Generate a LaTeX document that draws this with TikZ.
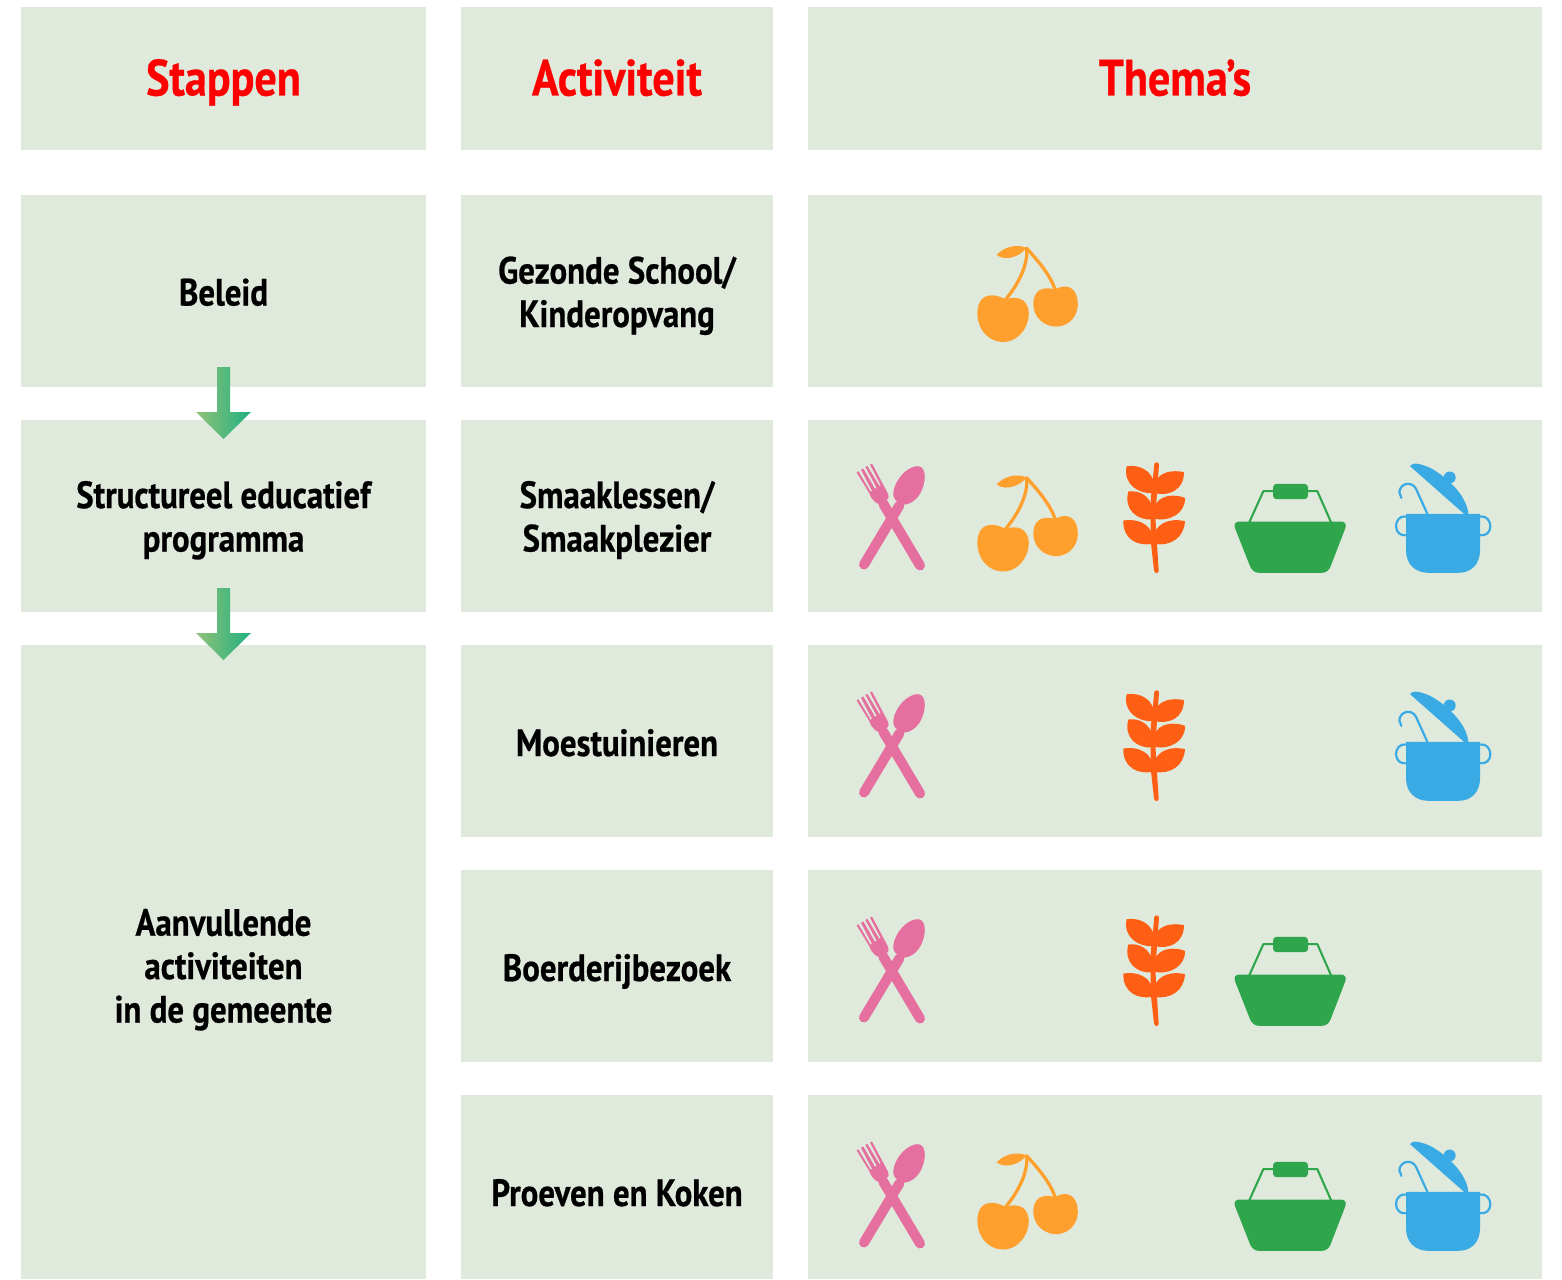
\documentclass[tikz,border=0pt]{standalone}
\usepackage{fontspec}
\setmainfont[FakeStretch=0.865,BoldFont={PT Sans Bold},BoldFeatures={FakeBold=0.6}]{PT Sans}
\usetikzlibrary{calc}
\definecolor{cellbg}{HTML}{E0EADC}
\definecolor{forkc}{HTML}{E56F9F}
\definecolor{cherryc}{HTML}{FFA02E}
\definecolor{wheatc}{HTML}{FF5F14}
\definecolor{basketc}{HTML}{30A64C}
\definecolor{potc}{HTML}{39AAE4}
\definecolor{arrowl}{HTML}{90C278}
\definecolor{arrowr}{HTML}{1FB080}
\tikzset{
  cell/.style={fill=cellbg,inner sep=0pt,outer sep=0pt},
  lbl/.style={inner sep=0pt,outer sep=0pt,anchor=base,align=center,font=\fontsize{38}{43.4}\selectfont\bfseries,text=black},
  headlbl/.style={lbl,font=\fontsize{51}{60}\selectfont\bfseries,text=red},
  zoomunits/.style={x=0.33333pt,y=-0.33333pt},
  flowarrow/.pic={
    \shade[left color=arrowl,right color=arrowr] (-6.5,0) -- (6.5,0) -- (6.5,45) -- (27.5,45) -- (0,72) -- (-27.5,45) -- (-6.5,45) -- cycle;
  },
  iconfork/.pic={
    \begin{scope}[zoomunits]
      \fill[forkc] (134,165) .. controls (112,165) and (95,150) .. (88,128)
        -- (50,66) -- (55,62) -- (92,124) -- (96,121) -- (63,58) -- (70,54) -- (105,115) -- (110,112) -- (76,49) -- (82,46) -- (118,106) -- (122,104) -- (90,42) -- (96,39)
        -- (140,122) .. controls (148,135) and (148,145) .. (138,150) -- (150,170) -- cycle;
      \draw[forkc,line width=10pt,line cap=round] (240,345) -- (130,160);
      \draw[forkc,line width=10pt,line cap=round] (72,342) -- (178,165);
      \fill[forkc] (160,125) .. controls (165,85) and (205,45) .. (235,47) .. controls (262,50) and (258,100) .. (240,130) .. controls (225,155) and (195,170) .. (178,158) .. controls (165,150) and (158,140) .. (160,125) -- cycle;
    \end{scope}
  },
  iconcherry/.pic={
    \begin{scope}[zoomunits]
      \fill[cherryc] (470,102) .. controls (490,78) and (530,68) .. (558,80) .. controls (550,100) and (500,125) .. (470,102) -- cycle;
      \draw[cherryc,line width=3.3pt,line cap=round] (560,82) .. controls (565,130) and (535,190) .. (497,235);
      \draw[cherryc,line width=3.3pt,line cap=round] (560,82) .. controls (590,115) and (630,160) .. (645,205);
      \fill[cherryc] (495,235) .. controls (475,222) and (445,218) .. (428,232) .. controls (410,248) and (408,285) .. (418,310) .. controls (430,345) and (460,363) .. (490,363) .. controls (525,363) and (555,335) .. (564,298) .. controls (572,265) and (560,235) .. (530,231) .. controls (515,230) and (505,232) .. (495,235) -- cycle;
      \fill[cherryc] (645,205) .. controls (625,200) and (600,200) .. (590,215) .. controls (575,235) and (578,265) .. (590,285) .. controls (603,305) and (625,317) .. (647,317) .. controls (680,317) and (705,295) .. (712,265) .. controls (718,230) and (705,200) .. (680,197) .. controls (665,196) and (655,200) .. (645,205) -- cycle;
    \end{scope}
  },
  iconwheat/.pic={
    \begin{scope}[zoomunits]
      \fill[wheatc] (133,40) .. controls (135,34) and (147,34) .. (147,42) -- (136,200) -- (146,360) .. controls (146,370) and (134,370) .. (132,360) -- (122,270) -- (122,150) -- cycle;
      \fill[wheatc] (50,47) .. controls (90,42) and (122,60) .. (132,95) -- (132,128) .. controls (85,132) and (38,100) .. (50,47) -- cycle;
      \fill[wheatc] (222,65) .. controls (190,58) and (150,62) .. (136,95) -- (134,128) .. controls (178,138) and (222,118) .. (222,65) -- cycle;
      \fill[wheatc] (55,123) .. controls (90,118) and (120,138) .. (127,172) -- (127,207) .. controls (82,210) and (40,178) .. (55,123) -- cycle;
      \fill[wheatc] (225,142) .. controls (195,130) and (145,132) .. (133,170) -- (133,205) .. controls (178,215) and (227,188) .. (225,142) -- cycle;
      \fill[wheatc] (40,210) .. controls (85,203) and (120,222) .. (127,255) -- (127,280) .. controls (85,288) and (38,268) .. (40,210) -- cycle;
      \fill[wheatc] (225,212) .. controls (190,203) and (145,212) .. (133,250) -- (133,280) .. controls (182,288) and (222,262) .. (225,212) -- cycle;
    \end{scope}
  },
  iconbasket/.pic={
    \begin{scope}[zoomunits]
      \draw[basketc,line width=2.1pt,line join=round] (418,215) -- (460,122) -- (622,122) -- (663,215);
      \fill[basketc,rounded corners=3.5pt] (489,100) rectangle (594,146);
      \fill[basketc] (388,213) -- (693,213) .. controls (705,213) and (710,222) .. (706,233) -- (662,347) .. controls (657,360) and (648,367) .. (635,367) -- (447,367) .. controls (435,367) and (425,360) .. (420,347) -- (375,233) .. controls (371,222) and (376,213) .. (388,213) -- cycle;
    \end{scope}
  },
  iconpot/.pic={
    \begin{scope}[zoomunits]
      \draw[potc,line width=2.2pt] (888,198) .. controls (870,195) and (858,210) .. (858,227) .. controls (858,245) and (872,257) .. (888,254);
      \draw[potc,line width=2.2pt] (1110,198) .. controls (1128,195) and (1141,210) .. (1141,227) .. controls (1141,245) and (1128,257) .. (1110,254);
      \fill[potc] (888,190) -- (1110,190) -- (1110,300) .. controls (1110,340) and (1085,367) .. (1045,367) -- (955,367) .. controls (915,367) and (888,340) .. (888,300) -- cycle;
      \fill[potc] (900,47) .. controls (905,35) and (930,38) .. (960,52) .. controls (1000,72) and (1070,130) .. (1075,190) -- (1062,190) -- cycle;
      \fill[potc] (1019,81) circle[radius=18];
      \draw[potc,line width=2.2pt,line cap=round] (952,190) -- (918,115) .. controls (905,90) and (870,98) .. (868,125) -- (874,142);
    \end{scope}
  }
}
\begin{document}
\begin{tikzpicture}[x=1pt,y=-1pt]
\useasboundingbox (0,0) rectangle (1562,1279);
% header cells
\node[cell,minimum width=405pt,minimum height=143pt] (hstappen) at (223.5,78.5) {};
\node[cell,minimum width=312pt,minimum height=143pt] (hactiviteit) at (617,78.5) {};
\node[cell,minimum width=734pt,minimum height=143pt] (hthemas) at (1175,78.5) {};
\node[headlbl] (tstappen) at (223.5,95.5) {Stappen};
\node[headlbl] (tactiviteit) at (617,95.5) {Activiteit};
\node[headlbl] (tthemas) at (1175,95.5) {Thema’s};
% steps
\node[cell,minimum width=405pt,minimum height=192pt] (beleid) at (223.5,291) {};
\node[cell,minimum width=405pt,minimum height=192pt] (struct) at (223.5,516) {};
\node[cell,minimum width=405pt,minimum height=634pt] (aanv) at (223.5,962) {};
\node[lbl] (tbeleid) at (223.5,305.5) {Beleid};
\node[lbl] (tstruct) at (223.5,551.5) {Structureel educatief\\programma};
\node[lbl] (taanv) at (223.5,1022.5) {Aanvullende\\activiteiten\\in de gemeente};
% activities
\node[cell,minimum width=312pt,minimum height=192pt] (a1) at (617,291) {};
\node[cell,minimum width=312pt,minimum height=192pt] (a2) at (617,516) {};
\node[cell,minimum width=312pt,minimum height=192pt] (a3) at (617,741) {};
\node[cell,minimum width=312pt,minimum height=192pt] (a4) at (617,966) {};
\node[cell,minimum width=312pt,minimum height=184pt] (a5) at (617,1187) {};
\node[lbl] (ta1) at (617,327) {Gezonde School/\\Kinderopvang};
\node[lbl] (ta2) at (617,551.5) {Smaaklessen/\\Smaakplezier};
\node[lbl] (ta3) at (617,756) {Moestuinieren};
\node[lbl] (ta4) at (617,981) {Boerderijbezoek};
\node[lbl] (ta5) at (617,1206) {Proeven en Koken};
% themes
\node[cell,minimum width=734pt,minimum height=192pt] (t1) at (1175,291) {};
\node[cell,minimum width=734pt,minimum height=192pt] (t2) at (1175,516) {};
\node[cell,minimum width=734pt,minimum height=192pt] (t3) at (1175,741) {};
\node[cell,minimum width=734pt,minimum height=192pt] (t4) at (1175,966) {};
\node[cell,minimum width=734pt,minimum height=184pt] (t5) at (1175,1187) {};
% arrows
\pic at ($(beleid.south)+(0,-20)$) {flowarrow};
\pic at ($(struct.south)+(0,-24)$) {flowarrow};
% icons
\pic at (840,221) {iconcherry};
\pic at (840,450.5) {iconfork};
\pic at (840,450.5) {iconcherry};
\pic at (1110,450.5) {iconwheat};
\pic at (1110,450.5) {iconbasket};
\pic at (1110,450.5) {iconpot};
\pic at (840,678.5) {iconfork};
\pic at (1110,678.5) {iconwheat};
\pic at (1110,678.5) {iconpot};
\pic at (840,903.5) {iconfork};
\pic at (1110,903.5) {iconwheat};
\pic at (1110,903.5) {iconbasket};
\pic at (840,1128.5) {iconfork};
\pic at (840,1128.5) {iconcherry};
\pic at (1110,1128.5) {iconbasket};
\pic at (1110,1128.5) {iconpot};
\end{tikzpicture}
\end{document}
